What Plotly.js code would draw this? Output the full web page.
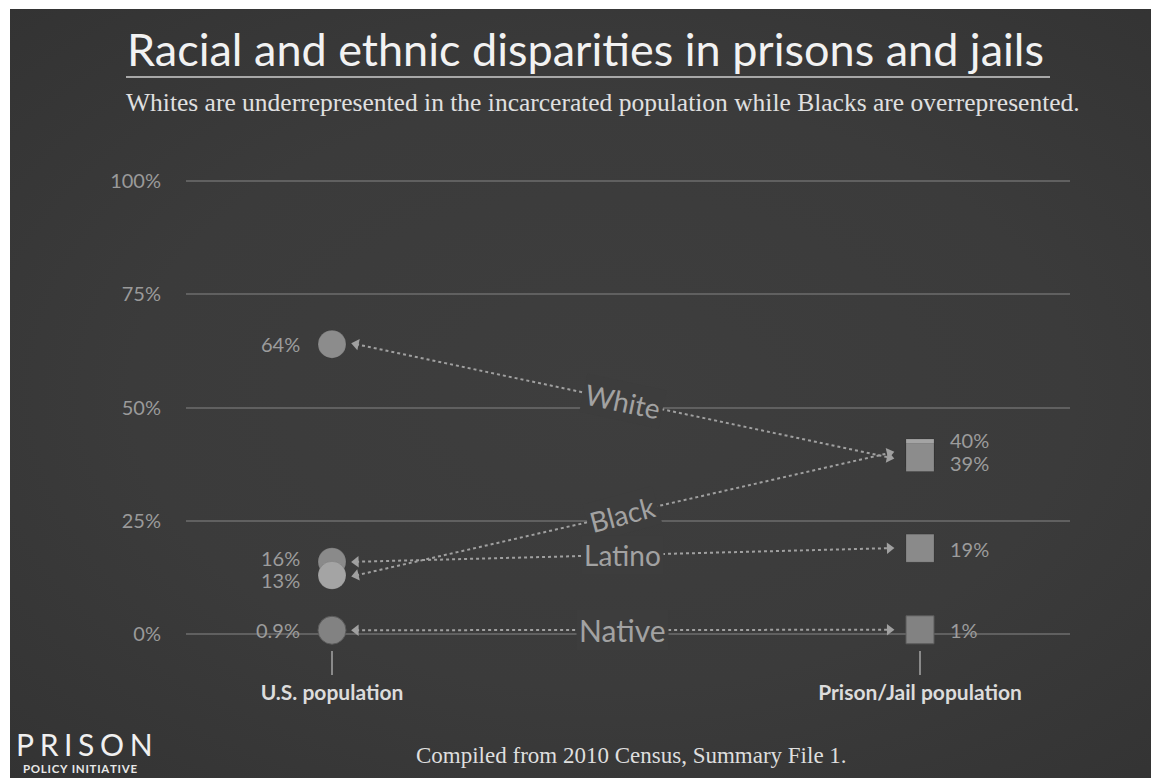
<!DOCTYPE html>
<html>
<head>
<meta charset="utf-8">
<script src="https://cdn.plot.ly/plotly-3.0.1.min.js"></script>
<style>
  html, body { margin: 0; padding: 0; background: #ffffff; width: 1151px; height: 778px; overflow: hidden; }
  #chart {
    position: absolute; left: 10px; top: 9px; width: 1141px; height: 769px;
    background: radial-gradient(ellipse 75% 70% at 52% 50%, #3e3e3e 0%, #3b3b3b 55%, #333333 100%);
  }
</style>
</head>
<body>
<div id="chart"></div>
<script>
// ---------------- DATA ----------------
const categories = ['U.S. population', 'Prison/Jail population'];
const groups = ['White', 'Black', 'Latino', 'Native'];
const usPopulation = [64, 13, 16, 0.9];
const prisonPopulation = [39, 40, 19, 1];
const usLabels = ['64%', '13%', '16%', '0.9%'];
const prisonLabels = ['39%', '40%', '19%', '1%'];
const yTickValues = [0, 25, 50, 75, 100];
const yTickLabels = ['0%', '25%', '50%', '75%', '100%'];

// ---------------- STYLE / LAYOUT CONSTANTS ----------------
const groupColors = { White: '#8c8c8c', Black: '#a4a4a4', Latino: '#8a8a8a', Native: '#828282' };
const groupTextAngle = { White: 12, Black: -15, Latino: 0, Native: 0 };
const groupFontSize = { White: 28, Black: 28, Latino: 28, Native: 30 };
const usLabelShift = { White: 0, Black: -5, Latino: 4, Native: 0 };
const prisonLabelShift = { White: -5, Black: 13, Latino: -1, Native: 0 };
const usOrder = ['White', 'Latino', 'Black', 'Native'];
const prisonOrder = ['Black', 'White', 'Latino', 'Native'];

const OX = 10, OY = 9;
const PL = 186, PR = 1070, PT = 170, PB = 650;
const X0 = 332, X1 = 920;
const Y100 = 181, Y0 = 634.3;
const pxPerX = X1 - X0;
const pxPerY = (Y0 - Y100) / 100;
const xRange = [(PL - X0) / pxPerX, (PR - X0) / pxPerX];
const yRange = [-(PB - Y0) / pxPerY, 100 + (Y100 - PT) / pxPerY];
const px = X => (X - PL) / (PR - PL);
const py = Y => (PB - Y) / (PB - PT);

const gapL = 0.041, gapR = 0.052;
const arrowColor = '#a0a0a0';
const labelBg = '#3d3d3d';
const TS = '\u2009';

const traces = [];
const annotations = [];

groups.forEach((g, i) => {
  const xa = 0 + gapL, xb = 1 - gapR;
  const ya = usPopulation[i], yb = prisonPopulation[i];
  const ang = Math.atan2((ya - yb) * pxPerY, (xb - xa) * pxPerX) * 180 / Math.PI;
  traces.push({
    x: [xa, xb], y: [ya, yb], mode: 'lines', hoverinfo: 'skip', showlegend: false,
    line: { color: arrowColor, width: 2, dash: '3px,3px' }
  });
  traces.push({
    x: [xa, xb], y: [ya, yb], mode: 'markers', hoverinfo: 'skip', showlegend: false,
    marker: { symbol: ['triangle-left', 'triangle-right'], size: 10, angle: ang, color: arrowColor, line: { width: 0 } }
  });
  annotations.push({
    xref: 'x', yref: 'y', x: (xa + xb) / 2, y: (ya + yb) / 2,
    text: g, showarrow: false, textangle: groupTextAngle[g],
    font: { family: 'Lato, sans-serif', size: groupFontSize[g], color: '#a2a2a2' },
    bgcolor: labelBg, borderpad: 2, xanchor: 'center', yanchor: 'middle'
  });
});

usOrder.forEach(g => {
  const i = groups.indexOf(g);
  traces.push({
    x: [0], y: [usPopulation[i]], mode: 'markers', name: g, showlegend: false,
    marker: { symbol: 'circle', size: 28, color: groupColors[g], line: { width: 1, color: g === 'Native' ? '#5a5a5a' : 'rgba(0,0,0,0.12)' } },
    hovertemplate: g + ': %{y}%<extra></extra>'
  });
  annotations.push({
    xref: 'x', yref: 'y', x: 0, y: usPopulation[i], text: usLabels[i], showarrow: false,
    xanchor: 'right', yanchor: 'middle', xshift: -30, yshift: usLabelShift[g],
    font: { family: 'Lato, sans-serif', size: 20, color: '#9c9c9c' }
  });
});

prisonOrder.forEach(g => {
  const i = groups.indexOf(g);
  traces.push({
    x: [1], y: [prisonPopulation[i]], mode: 'markers', name: g, showlegend: false,
    marker: { symbol: 'square', size: 28, color: groupColors[g], line: { width: 1, color: g === 'Native' ? '#5a5a5a' : 'rgba(0,0,0,0.12)' } },
    hovertemplate: g + ': %{y}%<extra></extra>'
  });
  annotations.push({
    xref: 'x', yref: 'y', x: 1, y: prisonPopulation[i], text: prisonLabels[i], showarrow: false,
    xanchor: 'left', yanchor: 'middle', xshift: 28, yshift: prisonLabelShift[g],
    font: { family: 'Lato, sans-serif', size: 20, color: '#9c9c9c' }
  });
});

annotations.push({
  xref: 'paper', yref: 'paper', x: px(585), y: py(49), xanchor: 'center', yanchor: 'middle',
  text: 'Racial and ethnic disparities in prisons and jails', showarrow: false,
  font: { family: 'Lato, sans-serif', size: 45, color: '#f2f2f2' }
});
annotations.push({
  xref: 'paper', yref: 'paper', x: px(603), y: py(102), xanchor: 'center', yanchor: 'middle',
  text: 'Whites are underrepresented in the incarcerated population while Blacks are overrepresented.', showarrow: false,
  font: { family: 'Liberation Serif, serif', size: 25.5, color: '#e0e0e0' }
});
annotations.push({
  xref: 'paper', yref: 'paper', x: px(631), y: py(755), xanchor: 'center', yanchor: 'middle',
  text: 'Compiled from 2010 Census, Summary File 1.', showarrow: false,
  font: { family: 'Liberation Serif, serif', size: 23, color: '#dedede' }
});
annotations.push({
  xref: 'paper', yref: 'paper', x: px(14), y: py(744), xanchor: 'left', yanchor: 'middle',
  text: 'PRISON'.split('').join(TS + '\u200A'), showarrow: false,
  font: { family: 'Lato, sans-serif', size: 30, color: '#f0f0f0' }
});
annotations.push({
  xref: 'paper', yref: 'paper', x: px(21), y: py(768), xanchor: 'left', yanchor: 'middle',
  text: '<b>' + 'POLICY INITIATIVE'.split('').join('\u200A') + '</b>', showarrow: false,
  font: { family: 'Lato, sans-serif', size: 11.5, color: '#e8e8e8' }
});

const layout = {
  width: 1141, height: 769,
  margin: { l: PL - OX, r: 1151 - PR, t: PT - OY, b: 778 - PB, pad: 0 },
  paper_bgcolor: 'rgba(0,0,0,0)', plot_bgcolor: 'rgba(0,0,0,0)',
  showlegend: false,
  xaxis: {
    range: xRange, showgrid: false, zeroline: false, showline: false,
    tickvals: [0, 1], ticktext: categories.map(c => '<b>' + c + '</b>'),
    ticks: 'outside', ticklen: 24, tickwidth: 2, tickcolor: '#8a8a8a',
    tickfont: { family: 'Lato, sans-serif', size: 21, color: '#dcdcdc' },
    fixedrange: true
  },
  yaxis: {
    range: yRange, showgrid: true, gridcolor: '#606060', gridwidth: 1.5,
    zeroline: false, showline: false,
    tickvals: yTickValues, ticktext: yTickLabels,
    ticks: 'outside', ticklen: 20, tickcolor: 'rgba(0,0,0,0)',
    tickfont: { family: 'Lato, sans-serif', size: 20, color: '#9a9a9a' },
    fixedrange: true
  },
  shapes: [{
    type: 'line', xref: 'paper', yref: 'paper',
    x0: px(126), x1: px(1050), y0: py(77), y1: py(77),
    line: { color: '#a8a8a8', width: 2 }
  }],
  annotations: annotations,
  font: { family: 'Lato, sans-serif' }
};

Plotly.newPlot('chart', traces, layout, { displayModeBar: false });
</script>
</body>
</html>
